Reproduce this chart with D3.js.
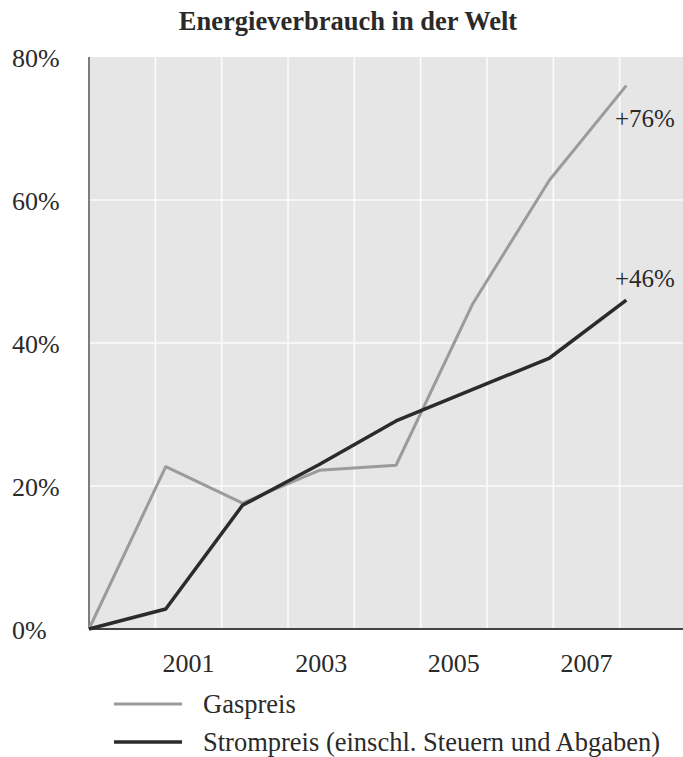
<!DOCTYPE html>
<html>
<head>
<meta charset="utf-8">
<script src="https://cdn.jsdelivr.net/npm/d3@7"></script>
<style>
  body { margin: 0; background: #fff; }
  text { font-family: "Liberation Serif", "Times New Roman", serif; fill: #2a2a2a; }
</style>
</head>
<body>
<div id="plothere"></div>
<script>
// data (change vs. 2000, in %)
var years = [2000, 2001, 2002, 2003, 2004, 2005, 2006, 2007];
var gas = [0, 22.7, 17.6, 22.2, 22.9, 45.5, 62.8, 76];
var strom = [0, 2.8, 17.3, 23.0, 29.1, 33.5, 37.9, 46];
var yTicks = [0, 20, 40, 60, 80];
var xLabels = ["2001", "2003", "2005", "2007"];
var xLabelCols = [1.5, 3.5, 5.5, 7.5];
var endLabels = ["+76%", "+46%"];
var seriesNames = ["Gaspreis", "Strompreis (einschl. Steuern und Abgaben)"];

var W = 683, H = 757;
var pLeft = 89, pTop = 57, pBottom = 629, pRight = 686;
var cols = 9;

var svg = d3.select("#plothere")
  .append("svg")
  .attr("width", W)
  .attr("height", H);

var xg = d3.scaleLinear().domain([0, cols]).range([pLeft, pRight]);
var xl = d3.scaleLinear().domain([2000, 2007]).range([pLeft, xg(8.1)]);
var y = d3.scaleLinear().domain([0, 80]).range([pBottom, pTop]);

// plot background
svg.append("rect")
  .attr("x", pLeft).attr("y", pTop)
  .attr("width", pRight - pLeft).attr("height", pBottom - pTop)
  .attr("fill", "#e6e6e6");

// white grid
svg.append("g")
  .selectAll("line")
  .data(d3.range(1, cols))
  .enter()
  .append("line")
  .attr("x1", function(d){ return xg(d) }).attr("x2", function(d){ return xg(d) })
  .attr("y1", pTop).attr("y2", pBottom)
  .attr("stroke", "#fbfbfb").attr("stroke-width", 1.6);
svg.append("g")
  .selectAll("line")
  .data(yTicks.filter(function(d){ return d > 0 && d < 80 }))
  .enter()
  .append("line")
  .attr("x1", pLeft).attr("x2", pRight)
  .attr("y1", function(d){ return y(d) }).attr("y2", function(d){ return y(d) })
  .attr("stroke", "#fbfbfb").attr("stroke-width", 1.6);

// axes lines
svg.append("line")
  .attr("x1", pLeft).attr("x2", pLeft).attr("y1", pTop).attr("y2", pBottom)
  .attr("stroke", "#555").attr("stroke-width", 1.5);
svg.append("line")
  .attr("x1", pLeft).attr("x2", pRight).attr("y1", pBottom).attr("y2", pBottom)
  .attr("stroke", "#444").attr("stroke-width", 1.8);

// y labels
svg.append("g")
  .selectAll("text")
  .data(yTicks)
  .enter()
  .append("text")
  .attr("x", 12)
  .attr("y", function(d){ return y(d) + 9.5 })
  .attr("font-size", 26)
  .text(function(d){ return d + "%" });

// x labels
svg.append("g")
  .selectAll("text")
  .data(xLabels)
  .enter()
  .append("text")
  .attr("x", function(d, i){ return xg(xLabelCols[i]) })
  .attr("y", 672)
  .attr("text-anchor", "middle")
  .attr("font-size", 26)
  .text(function(d){ return d });

// lines
var line = d3.line()
  .x(function(d){ return xl(d[0]) })
  .y(function(d){ return y(d[1]) });
var series = [
  { vals: gas, color: "#9b9b9b", w: 3 },
  { vals: strom, color: "#2b2b2b", w: 3.5 }
];
series.forEach(function(s, k){
  svg.append("path")
    .datum(years.map(function(yr, i){ return [yr, s.vals[i]] }))
    .attr("d", line)
    .attr("fill", "none")
    .attr("stroke", s.color)
    .attr("stroke-width", s.w)
    .attr("stroke-linejoin", "round");
  svg.append("text")
    .attr("x", 615)
    .attr("y", y(s.vals[s.vals.length - 1]) + (k == 0 ? 41 : -13))
    .attr("font-size", 25)
    .text(endLabels[k]);
});

// title
svg.append("text")
  .attr("x", 348).attr("y", 30)
  .attr("text-anchor", "middle")
  .attr("font-size", 26.5)
  .attr("font-weight", "bold")
  .text("Energieverbrauch in der Welt");

// legend
series.forEach(function(s, k){
  var ly = 704 + k * 38;
  svg.append("line")
    .attr("x1", 114).attr("x2", 182)
    .attr("y1", ly).attr("y2", ly)
    .attr("stroke", s.color).attr("stroke-width", s.w);
  svg.append("text")
    .attr("x", 203).attr("y", ly + 8.5)
    .attr("font-size", 26.5)
    .text(seriesNames[k]);
});
</script>
</body>
</html>
